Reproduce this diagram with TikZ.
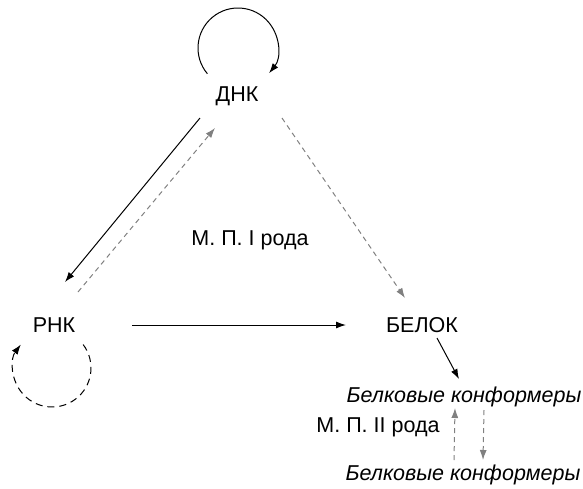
\documentclass[tikz,border=0pt]{standalone}
\usepackage{fontspec}
\setmainfont{Liberation Sans}
\usetikzlibrary{arrows.meta}
\begin{document}
\begin{tikzpicture}[x=1pt, y=-1pt, >={Latex[length=10pt,width=7pt]},
    lbl/.style={anchor=base, inner sep=0pt, font=\fontsize{21.5}{25}\selectfont},
    solidarr/.style={->, line width=1pt},
    grayarr/.style={->, line width=1pt, draw=black!50, dash pattern=on 5pt off 4pt}]
    \useasboundingbox (0,0) rectangle (583,488);
    % main nodes
    \node[lbl] (dnk) at (237,101) {ДНК};
    \node[lbl] (rnk) at (54,332) {РНК};
    \node[lbl] (belok) at (422,332) {БЕЛОК};
    \node[lbl, font=\fontsize{21.5}{25}\selectfont\itshape] (konfa) at (464,402) {Белковые конформеры};
    \node[lbl, font=\fontsize{21.5}{25}\selectfont\itshape] (konfb) at (463,480) {Белковые конформеры};
    \node[lbl] (mpa) at (250,245) {М. П. I рода};
    \node[lbl] (mpb) at (378,432) {М. П. II рода};
    % self loops
    \coordinate (dnkloop) at ([shift={(1,-53)}]dnk.base);
    \coordinate (rnkloop) at ([shift={(-2,36)}]rnk.base);
    \draw[solidarr] ([shift={(140:40)}]dnkloop) arc[start angle=140, end angle=399, radius=40];
    \draw[->, line width=1pt, dash pattern=on 7pt off 5pt] ([shift={(-37:39)}]rnkloop) arc[start angle=-37, end angle=217, radius=39];
    % connectors
    \draw[solidarr] ([shift={(-37,17)}]dnk.base) -- ([shift={(11,-50)}]rnk.base);
    \draw[grayarr] ([shift={(24,-40)}]rnk.base) -- ([shift={(-22,27)}]dnk.base);
    \draw[grayarr] ([shift={(45,17)}]dnk.base) -- ([shift={(-17,-34)}]belok.base);
    \draw[solidarr] ([shift={(78,-7)}]rnk.base) -- ([shift={(-76,-7)}]belok.base);
    \draw[solidarr] ([shift={(15,6)}]belok.base) -- ([shift={(-5,-23)}]konfa.base);
    \draw[grayarr] ([shift={(-9,-20)}]konfb.base) -- ([shift={(-9,6)}]konfa.base);
    \draw[grayarr] ([shift={(20,8)}]konfa.base) -- ([shift={(20,-20)}]konfb.base);
\end{tikzpicture}
\end{document}
